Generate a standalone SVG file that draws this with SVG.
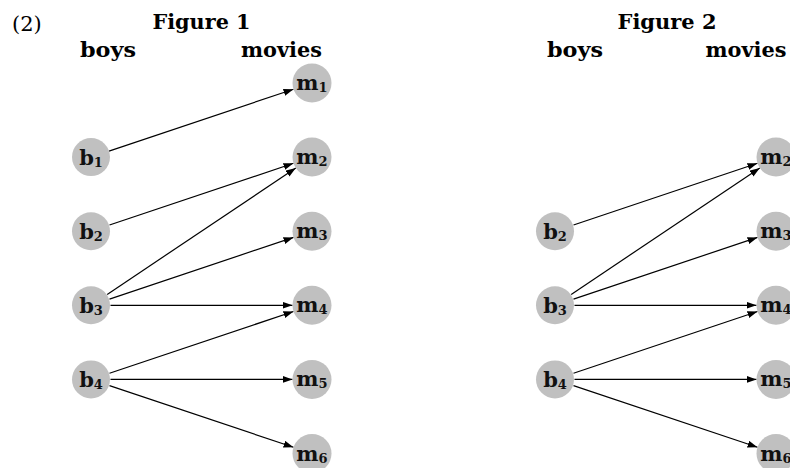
<svg xmlns="http://www.w3.org/2000/svg" width="790" height="468" viewBox="0 0 790 468">
<defs>
<style>
.hd{font-family:"DejaVu Serif","Liberation Serif",serif;font-weight:bold;font-size:20px;fill:#000;text-anchor:middle}
.num{font-family:"DejaVu Serif","Liberation Serif",serif;font-size:21px;fill:#000}
.nd{fill:#c0c0c0;stroke:none}
.lb{font-family:"DejaVu Serif","Liberation Serif",serif;font-weight:bold;font-size:21px;fill:#111;text-anchor:middle}
.sub{font-size:13px}
.e{stroke:#000;stroke-width:1.2;fill:none;marker-end:url(#ah)}
</style>
<marker id="ah" markerUnits="userSpaceOnUse" markerWidth="11" markerHeight="8" refX="10" refY="3.5" orient="auto">
<path d="M0,0 L10,3.5 L0,7 z" fill="#000"/>
</marker>
</defs>
<rect width="790" height="468" fill="#fff"/>
<text class="num" x="12" y="31">(2)</text>
<g id="fig1-headers">
<text class="hd" x="201.5" y="29" textLength="98" lengthAdjust="spacingAndGlyphs">Figure 1</text>
<text class="hd" x="108" y="57" textLength="56" lengthAdjust="spacingAndGlyphs">boys</text>
<text class="hd" x="281.5" y="57" textLength="81" lengthAdjust="spacingAndGlyphs">movies</text>
</g>
<g id="fig2-headers">
<text class="hd" x="667" y="29" textLength="99" lengthAdjust="spacingAndGlyphs">Figure 2</text>
<text class="hd" x="575" y="57" textLength="56" lengthAdjust="spacingAndGlyphs">boys</text>
<text class="hd" x="746" y="57" textLength="81" lengthAdjust="spacingAndGlyphs">movies</text>
</g>
<g id="fig1-edges">
<line class="e" x1="109.0" y1="151.1" x2="293.5" y2="89.2"/>
<line class="e" x1="109.5" y1="225.0" x2="293.5" y2="163.3"/>
<line class="e" x1="107.2" y1="294.4" x2="295.8" y2="168.0"/>
<line class="e" x1="109.5" y1="299.1" x2="293.5" y2="237.4"/>
<line class="e" x1="110.5" y1="305.3" x2="292.5" y2="305.3"/>
<line class="e" x1="109.5" y1="373.2" x2="293.5" y2="311.5"/>
<line class="e" x1="110.5" y1="379.4" x2="292.5" y2="379.4"/>
<line class="e" x1="109.5" y1="385.6" x2="293.5" y2="447.3"/>
</g>
<g id="fig2-edges">
<line class="e" x1="573.5" y1="225.0" x2="757.5" y2="163.3"/>
<line class="e" x1="571.2" y1="294.4" x2="759.8" y2="168.0"/>
<line class="e" x1="573.5" y1="299.1" x2="757.5" y2="237.4"/>
<line class="e" x1="574.5" y1="305.3" x2="756.5" y2="305.3"/>
<line class="e" x1="573.5" y1="373.2" x2="757.5" y2="311.5"/>
<line class="e" x1="574.5" y1="379.4" x2="756.5" y2="379.4"/>
<line class="e" x1="573.5" y1="385.6" x2="757.5" y2="447.3"/>
</g>
<g id="f1-b1"><circle class="nd" cx="91" cy="157.1" r="19"/><text class="lb" x="91" y="164.5">b<tspan class="sub" dy="2">1</tspan></text></g>
<g id="f1-b2"><circle class="nd" cx="91" cy="231.2" r="19"/><text class="lb" x="91" y="238.6">b<tspan class="sub" dy="2">2</tspan></text></g>
<g id="f1-b3"><circle class="nd" cx="91" cy="305.3" r="19"/><text class="lb" x="91" y="312.7">b<tspan class="sub" dy="2">3</tspan></text></g>
<g id="f1-b4"><circle class="nd" cx="91" cy="379.4" r="19"/><text class="lb" x="91" y="386.8">b<tspan class="sub" dy="2">4</tspan></text></g>
<g id="f1-m1"><circle class="nd" cx="312" cy="83" r="19.5"/><text class="lb" x="312" y="90">m<tspan class="sub" dy="2">1</tspan></text></g>
<g id="f1-m2"><circle class="nd" cx="312" cy="157.1" r="19.5"/><text class="lb" x="312" y="164.1">m<tspan class="sub" dy="2">2</tspan></text></g>
<g id="f1-m3"><circle class="nd" cx="312" cy="231.2" r="19.5"/><text class="lb" x="312" y="238.2">m<tspan class="sub" dy="2">3</tspan></text></g>
<g id="f1-m4"><circle class="nd" cx="312" cy="305.3" r="19.5"/><text class="lb" x="312" y="312.3">m<tspan class="sub" dy="2">4</tspan></text></g>
<g id="f1-m5"><circle class="nd" cx="312" cy="379.4" r="19.5"/><text class="lb" x="312" y="386.4">m<tspan class="sub" dy="2">5</tspan></text></g>
<g id="f1-m6"><circle class="nd" cx="312" cy="453.5" r="19.5"/><text class="lb" x="312" y="460.5">m<tspan class="sub" dy="2">6</tspan></text></g>
<g id="f2-b2"><circle class="nd" cx="555" cy="231.2" r="19"/><text class="lb" x="555" y="238.6">b<tspan class="sub" dy="2">2</tspan></text></g>
<g id="f2-b3"><circle class="nd" cx="555" cy="305.3" r="19"/><text class="lb" x="555" y="312.7">b<tspan class="sub" dy="2">3</tspan></text></g>
<g id="f2-b4"><circle class="nd" cx="555" cy="379.4" r="19"/><text class="lb" x="555" y="386.8">b<tspan class="sub" dy="2">4</tspan></text></g>
<g id="f2-m2"><circle class="nd" cx="776" cy="157.1" r="19.5"/><text class="lb" x="776" y="164.1">m<tspan class="sub" dy="2">2</tspan></text></g>
<g id="f2-m3"><circle class="nd" cx="776" cy="231.2" r="19.5"/><text class="lb" x="776" y="238.2">m<tspan class="sub" dy="2">3</tspan></text></g>
<g id="f2-m4"><circle class="nd" cx="776" cy="305.3" r="19.5"/><text class="lb" x="776" y="312.3">m<tspan class="sub" dy="2">4</tspan></text></g>
<g id="f2-m5"><circle class="nd" cx="776" cy="379.4" r="19.5"/><text class="lb" x="776" y="386.4">m<tspan class="sub" dy="2">5</tspan></text></g>
<g id="f2-m6"><circle class="nd" cx="776" cy="453.5" r="19.5"/><text class="lb" x="776" y="460.5">m<tspan class="sub" dy="2">6</tspan></text></g>
</svg>
